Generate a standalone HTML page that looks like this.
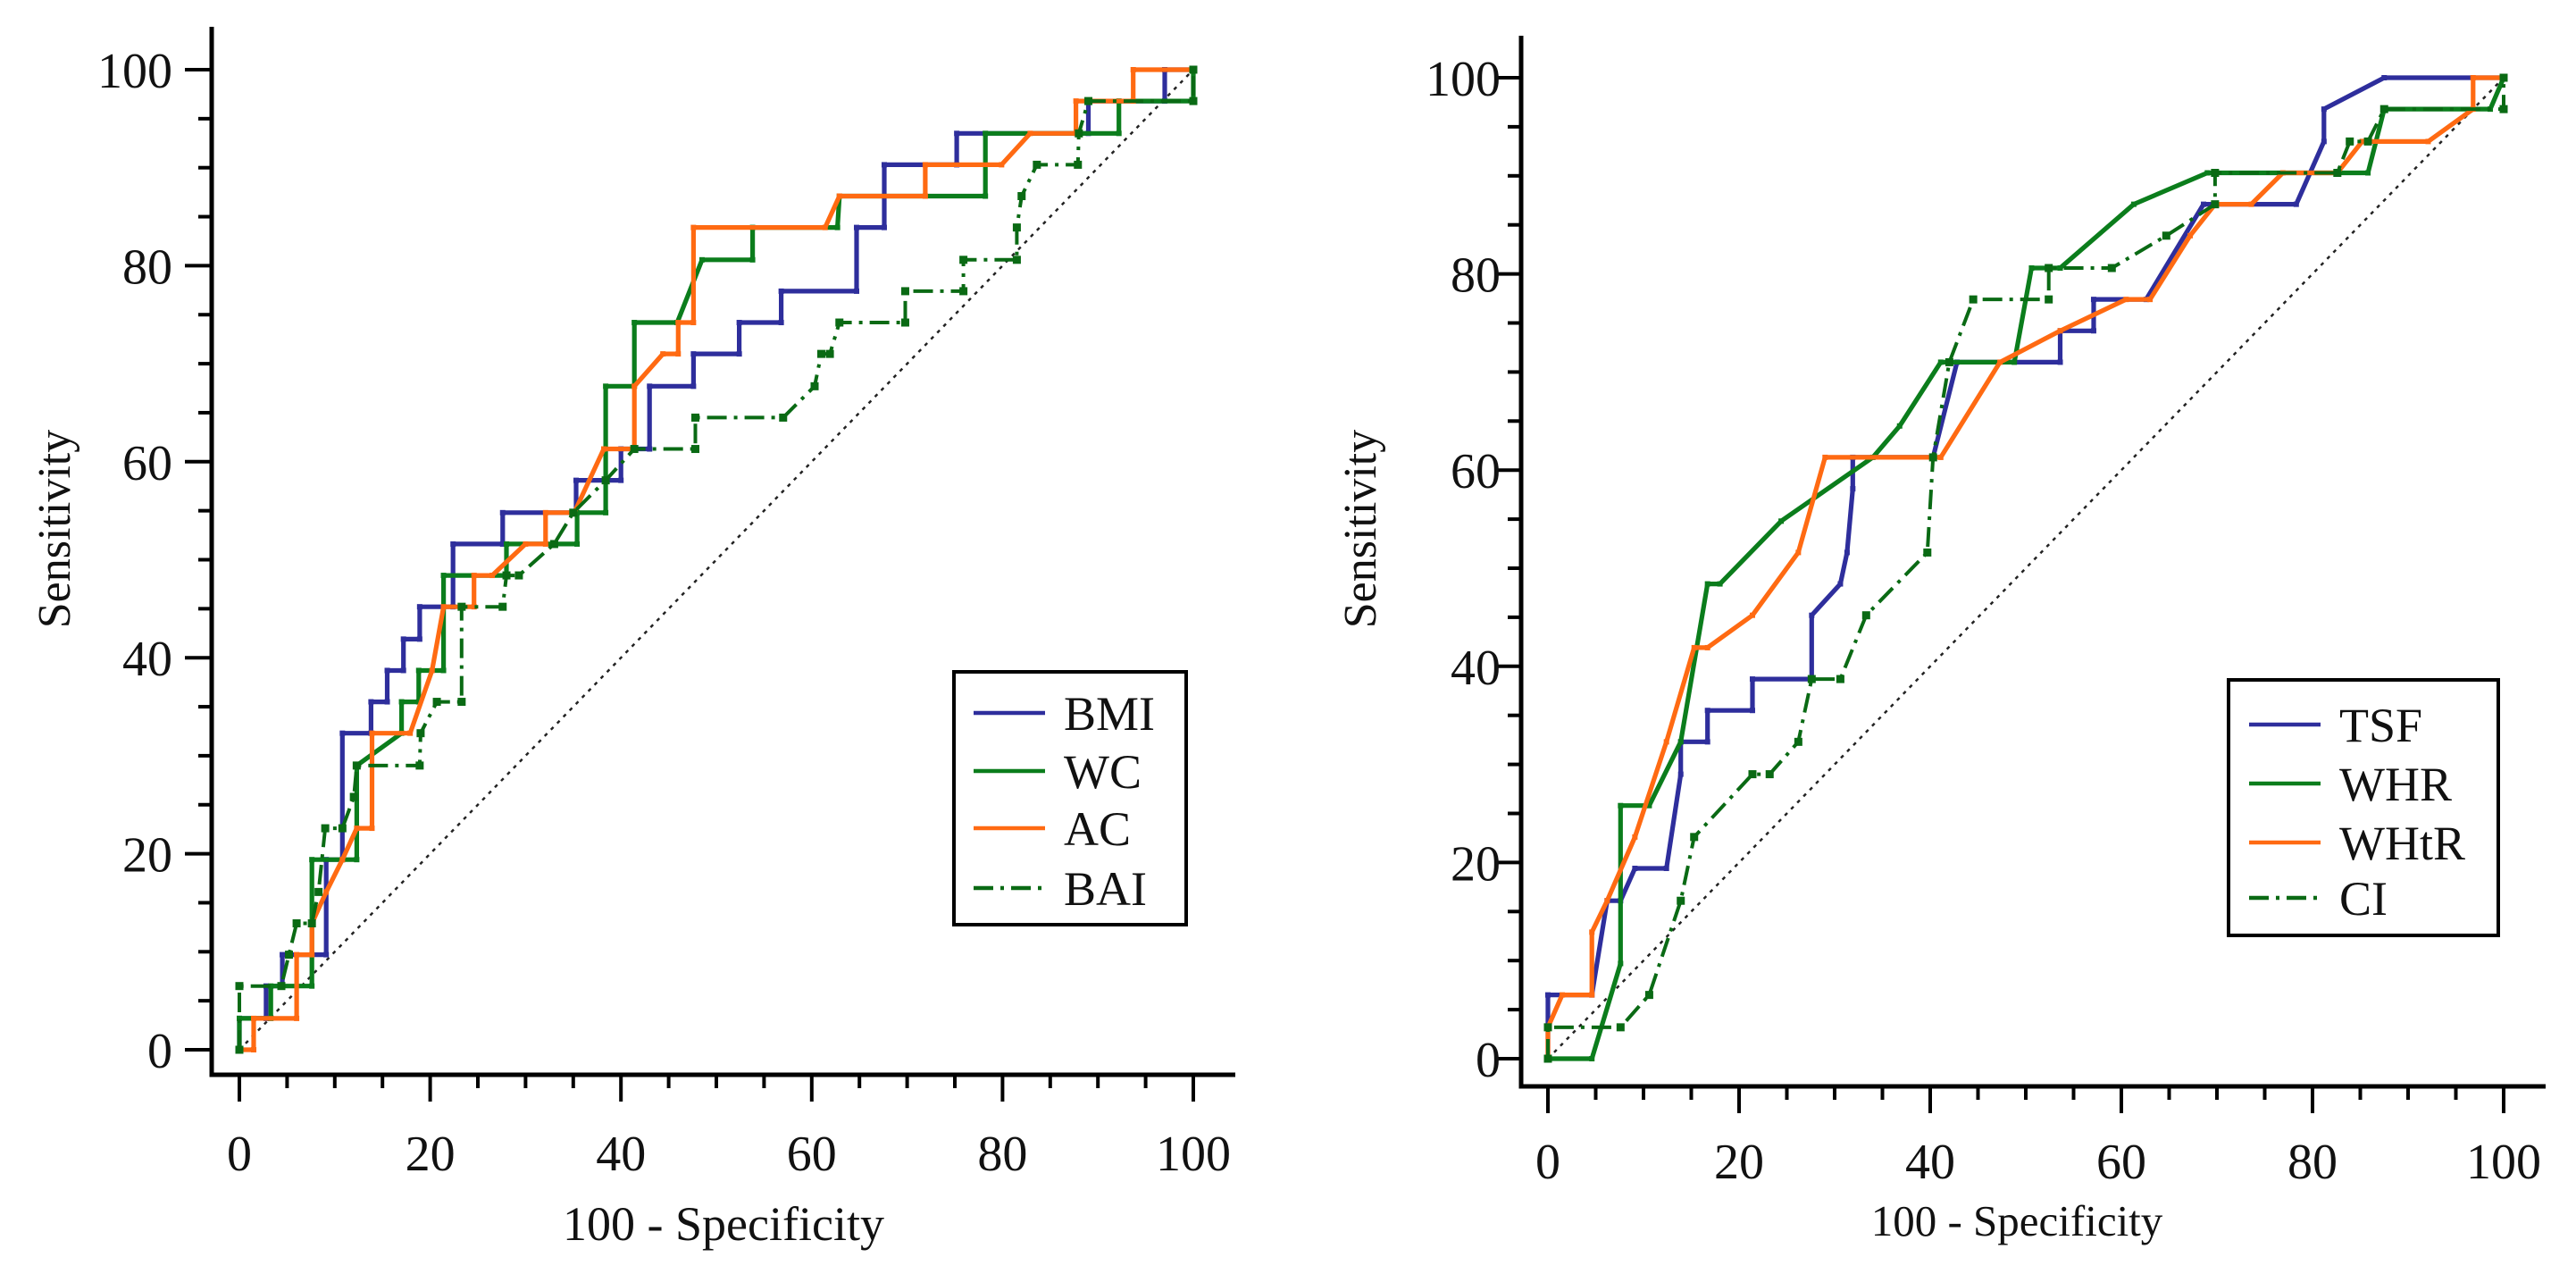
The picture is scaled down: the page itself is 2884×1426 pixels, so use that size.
<!DOCTYPE html>
<html><head><meta charset="utf-8"><style>
html,body{margin:0;padding:0;background:#fff;}
svg{display:block;}
text{font-family:"Liberation Serif",serif;fill:#111;}
</style></head><body>
<svg id="fig" width="2884" height="1426" viewBox="0 0 2884 1426" xmlns="http://www.w3.org/2000/svg"></svg>
<script>
// ---- data (x = 100-Specificity, y = Sensitivity) ----
const ticks = [0, 20, 40, 60, 80, 100];
const leftNames = ["BMI", "WC", "AC", "BAI"];
const rightNames = ["TSF", "WHR", "WHtR", "CI"];
const bmiX = [0,0,2.8,2.8,4.5,4.5,9.1,9.1,10.8,10.8,13.8,13.8,15.5,15.5,17.2,17.2,18.9,18.9,22.4,22.4,27.6,27.6,35.3,35.3,40,40,43,43,47.6,47.6,52.4,52.4,56.8,56.8,64.7,64.7,67.6,67.6,75.2,75.2,89,89,97,97,100];
const bmiY = [0,3.2,3.2,6.5,6.5,9.7,9.7,19.4,19.4,32.3,32.3,35.5,35.5,38.7,38.7,41.9,41.9,45.2,45.2,51.6,51.6,54.8,54.8,58.1,58.1,61.3,61.3,67.7,67.7,71,71,74.2,74.2,77.4,77.4,83.9,83.9,90.3,90.3,93.5,93.5,96.8,96.8,100,100];
const wcX = [0,0,3.3,3.3,7.6,7.6,10.8,12.3,12.3,17,17,18.8,18.8,21.4,21.4,28,28,35.4,35.4,38.4,38.4,41.4,41.4,45.9,48.5,53.8,53.8,62.7,62.9,78.2,78.2,92.2,92.2,100,100];
const wcY = [0,3.2,3.2,6.5,6.5,19.4,19.4,19.4,29,32.3,35.5,35.5,38.7,38.7,48.4,48.4,51.6,51.6,54.8,54.8,67.7,67.7,74.2,74.2,80.6,80.6,83.9,83.9,87.1,87.1,93.5,93.5,96.8,96.8,100];
const acX = [0,1.5,1.5,6,6,7.6,7.6,9.1,10.8,12.3,13.9,13.9,17.9,20.2,21.4,24.6,24.6,26.5,30,32.1,32.1,35.1,38.2,41.4,41.4,44.4,46,46,47.6,47.6,61.4,62.9,71.9,71.9,79.9,82.9,87.7,87.7,93.7,93.7,100];
const acY = [0,0,3.2,3.2,9.7,9.7,12.9,16.1,19.4,22.6,22.6,32.3,32.3,38.7,45.2,45.2,48.4,48.4,51.6,51.6,54.8,54.8,61.3,61.3,67.7,71,71,74.2,74.2,83.9,83.9,87.1,87.1,90.3,90.3,93.5,93.5,96.8,96.8,100,100];
const baiX = [0,0,4.4,5.2,6,7.6,8.3,9,10.8,12,12.3,18.9,19,20.7,23.3,23.3,27.6,28,29.3,33,35,38.4,41.4,47.8,47.8,57,60.3,61,61.9,62.9,69.8,69.8,75.9,75.9,81.5,81.5,82,83.6,87.9,88,89,100,100];
const baiY = [0,6.5,6.5,9.7,12.9,12.9,16.1,22.6,22.6,25.8,29,29,32.3,35.5,35.5,45.2,45.2,48.4,48.4,51.6,54.8,58.1,61.3,61.3,64.5,64.5,67.7,71,71,74.2,74.2,77.4,77.4,80.6,80.6,83.9,87.1,90.3,90.3,93.5,96.8,96.8,100];
const tsfX = [0,0,4.6,6.2,7.6,9.1,12.4,13.9,13.9,16.7,16.7,21.4,21.4,27.6,27.6,30.6,31.3,31.9,31.9,40.3,42.8,53.6,53.6,57.1,57.1,62.6,68.6,78.3,81.2,81.2,87.5,100];
const tsfY = [0,6.5,6.5,16.1,16.1,19.4,19.4,29,32.3,32.3,35.5,35.5,38.7,38.7,45.2,48.4,51.6,58.1,61.3,61.3,71,71,74.2,74.2,77.4,77.4,87.1,87.1,93.5,96.8,100,100];
const whrX = [0,4.6,7.6,7.6,10.6,13.9,16.7,18,24.4,34,36.8,41.1,48.8,50.6,53.6,61.3,69,85.8,87.5,98.6,100];
const whrY = [0,0,9.7,25.8,25.8,32.3,48.4,48.4,54.8,61.3,64.5,71,71,80.6,80.6,87.1,90.3,90.3,96.8,96.8,100];
const whtrX = [0,0,1.5,4.6,4.6,6.2,9.1,12.4,15.3,16.7,21.4,26.2,29,41.1,47.3,53.6,60.5,63,67.2,69.8,73.6,76.9,82.6,85.2,92.1,96.8,96.8,100];
const whtrY = [0,3.2,6.5,6.5,12.9,16.1,22.6,32.3,41.9,41.9,45.2,51.6,61.3,61.3,71,74.2,77.4,77.4,83.9,87.1,87.1,90.3,90.3,93.5,93.5,96.8,100,100];
const ciX = [0,0,7.6,10.6,13.9,15.3,21.4,23.2,26.2,27.6,30.6,33.3,39.7,40.3,42,44.5,52.4,52.4,59,64.7,69.8,69.8,82.6,83.9,85.8,87.5,100,100];
const ciY = [0,3.2,3.2,6.5,16.1,22.6,29,29,32.3,38.7,38.7,45.2,51.6,61.3,71,77.4,77.4,80.6,80.6,83.9,87.1,90.3,90.3,93.5,93.5,96.8,96.8,100];

const NS = "http://www.w3.org/2000/svg";
const svg = document.getElementById("fig");
function mk(tag, attrs, parent) {
  const e = document.createElementNS(NS, tag);
  for (const k in attrs) e.setAttribute(k, attrs[k]);
  (parent || svg).appendChild(e);
  return e;
}
const BLUE = "#2e2e9c", GREEN = "#0b7d1c", ORANGE = "#ff6a12", DGREEN = "#0a6a14";

function chart(cfg) {
  const g = mk("g", {});
  
  
  const sx = v => cfg.x0 + (cfg.x100 - cfg.x0) * v / 100;
  const sy = v => cfg.y0 + (cfg.y100 - cfg.y0) * v / 100;
  const ax = mk("path", {d: `M${cfg.axX},${cfg.top} L${cfg.axX},${cfg.axY} L${cfg.right},${cfg.axY}`, fill: "none", stroke: "#000", "stroke-width": 5}, g);
  
  
  for (let v = 0; v <= 100; v += 5) {
    const major = v % 20 === 0;
    const L = major ? 30 : 15;
    const ty = mk("line", {x1: cfg.axX - L, x2: cfg.axX, y1: sy(v), y2: sy(v), stroke: "#000", "stroke-width": 4}, g);
    
    
    const tx = mk("line", {x1: sx(v), x2: sx(v), y1: cfg.axY, y2: cfg.axY + L, stroke: "#000", "stroke-width": 4}, g);
    
    
  }
  ticks.forEach(t => {
    const yl = mk("text", {x: cfg.ylabR, y: sy(t) + 20, "font-size": 56, "text-anchor": "end"}, g);
    yl.textContent = t;
    
    
    const xl = mk("text", {x: sx(t), y: cfg.xlabY, "font-size": 56, "text-anchor": "middle"}, g);
    xl.textContent = t;
    
    
  });
  const yt = mk("text", {x: 0, y: 0, "font-size": 52, "text-anchor": "middle", transform: `translate(${cfg.ytX},592) rotate(-90)`}, g);
  yt.textContent = "Sensitivity";
  
  
  const xt = mk("text", {x: cfg.xtX, y: cfg.xtY, "font-size": cfg.xtSize, "text-anchor": "middle"}, g);
  xt.textContent = "100 - Specificity";
  
  
  const dg = mk("line", {x1: sx(0), y1: sy(0), x2: sx(100), y2: sy(100), stroke: "#222", "stroke-width": 2.5, "stroke-dasharray": "4 6"}, g);
  
  
  cfg.series.forEach(s => {
    const pts = s.xs.map((x, i) => `${sx(x).toFixed(1)},${sy(s.ys[i]).toFixed(1)}`).join(" ");
    const pl = mk("polyline", {points: pts, fill: "none", stroke: s.color, "stroke-width": s.dash ? 4 : 5.2, "stroke-linejoin": "round"}, g);
    if (s.dash) pl.setAttribute("stroke-dasharray", "22 8 4 8");
    
    
    s.xs.forEach((x, i) => {
      const sz = s.dash ? 9 : 6;
      const m = mk("rect", {x: sx(x) - sz / 2, y: sy(s.ys[i]) - sz / 2, width: sz, height: sz, fill: s.color}, g);
      
      
    });
  });
  const lg = mk("g", {}, g);
  
  
  mk("rect", {x: cfg.leg.x, y: cfg.leg.y, width: cfg.leg.w, height: cfg.leg.h, fill: "#fff", stroke: "#000", "stroke-width": 4}, lg);
  cfg.series.forEach((s, i) => {
    const ry = cfg.leg.rows[i];
    const ll = mk("line", {x1: cfg.leg.lx1, x2: cfg.leg.lx2, y1: ry, y2: ry, stroke: s.color, "stroke-width": 4.5}, lg);
    if (s.dash) ll.setAttribute("stroke-dasharray", "22 8 4 8");
    
    
    const lt = mk("text", {x: cfg.leg.tx, y: ry + 19, "font-size": 54}, lg);
    lt.textContent = s.label;
    
    
  });
}

chart({name: "left-roc-chart", x0: 268, x100: 1336, y0: 1175, y100: 78,
  axX: 237, axY: 1203, top: 30, right: 1383, ylabR: 193, xlabY: 1310, ytX: 78, xtX: 810, xtY: 1388, xtSize: 54,
  series: [
    {label: leftNames[0], xs: bmiX, ys: bmiY, color: BLUE},
    {label: leftNames[1], xs: wcX, ys: wcY, color: GREEN},
    {label: leftNames[2], xs: acX, ys: acY, color: ORANGE},
    {label: leftNames[3], xs: baiX, ys: baiY, color: DGREEN, dash: true}],
  leg: {x: 1068, y: 752, w: 260, h: 283, lx1: 1090, lx2: 1170, tx: 1191, rows: [798, 863, 927, 994]}});

chart({name: "right-roc-chart", x0: 1733, x100: 2803, y0: 1185, y100: 87,
  axX: 1703, axY: 1216, top: 40, right: 2850, ylabR: 1680, xlabY: 1319, ytX: 1540, xtX: 2258, xtY: 1383, xtSize: 49,
  series: [
    {label: rightNames[0], xs: tsfX, ys: tsfY, color: BLUE},
    {label: rightNames[1], xs: whrX, ys: whrY, color: GREEN},
    {label: rightNames[2], xs: whtrX, ys: whtrY, color: ORANGE},
    {label: rightNames[3], xs: ciX, ys: ciY, color: DGREEN, dash: true}],
  leg: {x: 2495, y: 761, w: 302, h: 286, lx1: 2518, lx2: 2598, tx: 2619, rows: [811, 877, 943, 1005]}});
</script>
</body></html>
